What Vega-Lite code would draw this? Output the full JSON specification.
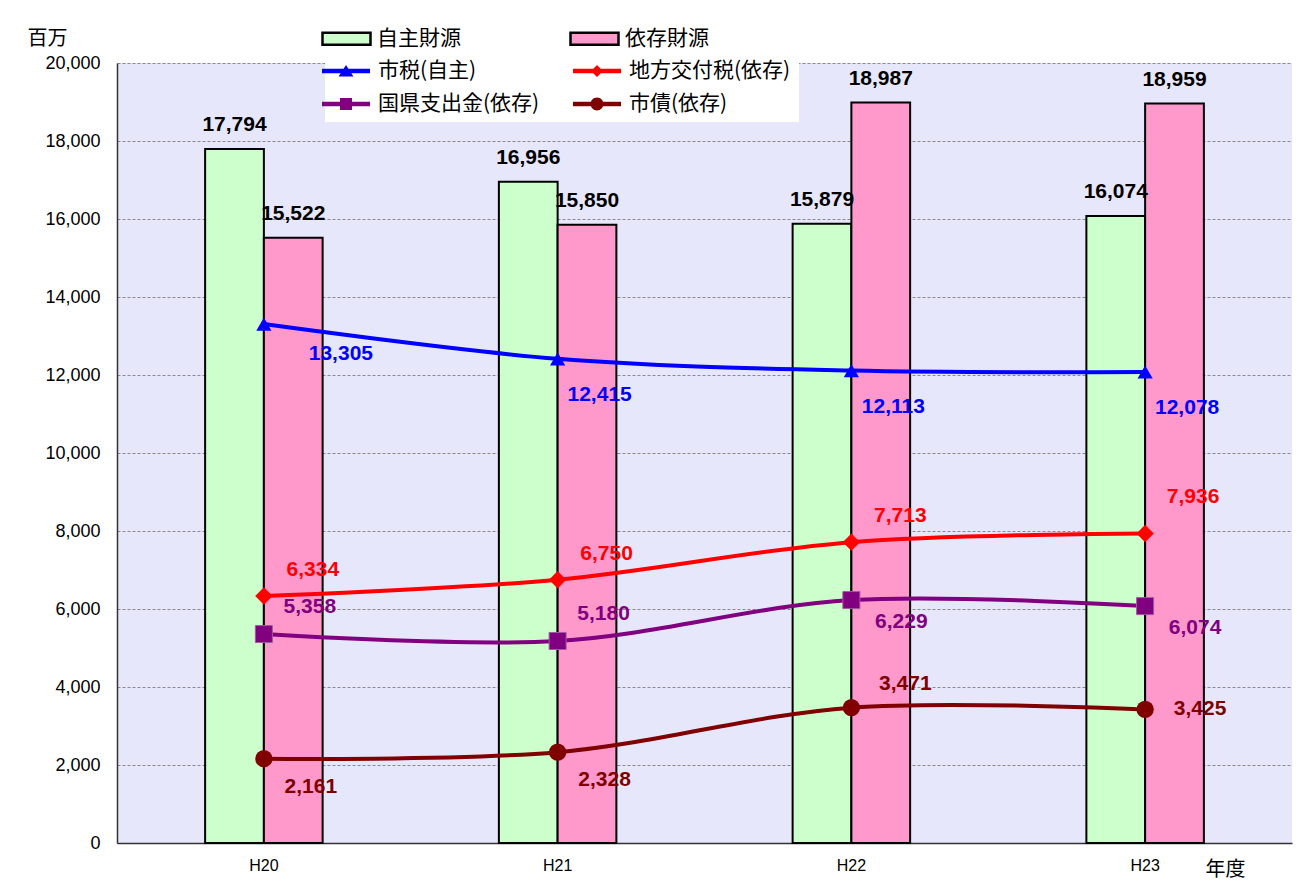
{
  "$schema": "https://vega.github.io/schema/vega-lite/v6.json",
  "autosize": {"type": "none"},
  "width": 1175,
  "height": 780,
  "padding": {"left": 117, "top": 63, "right": 8, "bottom": 44},
  "background": "white",
  "view": {"fill": "#e7e7fc", "stroke": null},
  "config": {"font": "Liberation Sans"},
  "datasets": {
    "bars": [
      {"year": "H20", "series": "自主財源", "value": 17794},
      {"year": "H20", "series": "依存財源", "value": 15522},
      {"year": "H21", "series": "自主財源", "value": 16956},
      {"year": "H21", "series": "依存財源", "value": 15850},
      {"year": "H22", "series": "自主財源", "value": 15879},
      {"year": "H22", "series": "依存財源", "value": 18987},
      {"year": "H23", "series": "自主財源", "value": 16074},
      {"year": "H23", "series": "依存財源", "value": 18959}
    ],
    "lines": [
      {"year": "H20", "series": "市税(自主)", "value": 13305},
      {"year": "H21", "series": "市税(自主)", "value": 12415},
      {"year": "H22", "series": "市税(自主)", "value": 12113},
      {"year": "H23", "series": "市税(自主)", "value": 12078},
      {"year": "H20", "series": "地方交付税(依存)", "value": 6334},
      {"year": "H21", "series": "地方交付税(依存)", "value": 6750},
      {"year": "H22", "series": "地方交付税(依存)", "value": 7713},
      {"year": "H23", "series": "地方交付税(依存)", "value": 7936},
      {"year": "H20", "series": "国県支出金(依存)", "value": 5358},
      {"year": "H21", "series": "国県支出金(依存)", "value": 5180},
      {"year": "H22", "series": "国県支出金(依存)", "value": 6229},
      {"year": "H23", "series": "国県支出金(依存)", "value": 6074},
      {"year": "H20", "series": "市債(依存)", "value": 2161},
      {"year": "H21", "series": "市債(依存)", "value": 2328},
      {"year": "H22", "series": "市債(依存)", "value": 3471},
      {"year": "H23", "series": "市債(依存)", "value": 3425}
    ]
  },
  "layer": [
    {
      "data": {"name": "bars"},
      "mark": {"type": "bar", "stroke": "black", "strokeWidth": 2},
      "encoding": {
        "x": {
          "field": "year", "type": "nominal", "sort": null,
          "scale": {"paddingInner": 0.6, "paddingOuter": 0.3},
          "axis": {
            "title": "年度", "titleX": 1108, "titleY": 26, "titleAlign": "center", "titleBaseline": "middle",
            "titleFont": "Noto Sans CJK JP", "titleFontSize": 20, "titleFontWeight": "normal",
            "labelAngle": 0, "labelFontSize": 16, "labelPadding": 14, "labelColor": "black",
            "ticks": false, "domainColor": "#333333", "domainWidth": 1.5
          }
        },
        "xOffset": {
          "field": "series", "type": "nominal",
          "scale": {"domain": ["自主財源", "依存財源"], "paddingInner": 0, "paddingOuter": 0}
        },
        "y": {
          "field": "value", "type": "quantitative",
          "scale": {"domain": [0, 20000], "nice": false},
          "axis": {
            "values": [0, 2000, 4000, 6000, 8000, 10000, 12000, 14000, 16000, 18000, 20000],
            "format": ",d", "title": "百万", "titleAngle": 0, "titleX": -90, "titleY": -25,
            "titleAlign": "left", "titleBaseline": "middle", "titleFont": "Noto Sans CJK JP",
            "titleFontSize": 20, "titleFontWeight": "normal",
            "labelFontSize": 18, "labelPadding": 17, "labelColor": "black", "ticks": false,
            "gridColor": "#8a8a8a", "gridDash": [3, 2], "gridWidth": 1,
            "domainColor": "#333333", "domainWidth": 1.5
          }
        },
        "fill": {
          "field": "series", "type": "nominal",
          "scale": {"domain": ["自主財源", "依存財源"], "range": ["#ccffcc", "#ff99cc"]},
          "legend": {
            "orient": "none", "legendX": 216, "legendY": -38, "direction": "horizontal", "columns": 2,
            "title": null, "symbolType": "M-2,-0.5H2V0.5H-2Z", "symbolSize": 576,
            "symbolStrokeColor": "black", "symbolStrokeWidth": 2.5,
            "labelFont": "Noto Sans CJK JP", "labelFontSize": 21, "labelOffset": 17, "labelColor": "black",
            "columnPadding": 104, "labelLimit": 300, "padding": 0
          }
        }
      }
    },
    {
      "data": {"name": "bars"},
      "mark": {"type": "text", "fontWeight": "bold", "fontSize": 21, "dy": -24, "baseline": "middle", "color": "black"},
      "encoding": {
        "x": {"field": "year", "type": "nominal", "sort": null},
        "xOffset": {"field": "series", "type": "nominal"},
        "y": {"field": "value", "type": "quantitative"},
        "text": {"field": "value", "type": "quantitative", "format": ","}
      }
    },
    {
      "data": {"name": "lines"},
      "mark": {"type": "point", "filled": true, "opacity": 0},
      "encoding": {
        "x": {"field": "year", "type": "nominal", "sort": null},
        "y": {"field": "value", "type": "quantitative"},
        "color": {
          "field": "series", "type": "nominal",
          "scale": {
            "domain": ["市税(自主)", "地方交付税(依存)", "国県支出金(依存)", "市債(依存)"],
            "range": ["#0000ff", "#ff0000", "#800080", "#800000"]
          },
          "legend": {
            "orient": "none", "legendX": 208, "legendY": -13, "direction": "horizontal", "columns": 2,
            "title": null, "symbolSize": 576, "symbolOpacity": 1,
            "labelFont": "Noto Sans CJK JP", "labelFontSize": 21, "labelOffset": 19, "labelColor": "black",
            "columnPadding": 30, "rowPadding": 10, "labelLimit": 300, "padding": 8, "fillColor": "white"
          }
        },
        "shape": {
          "field": "series", "type": "nominal",
          "scale": {
            "domain": ["市税(自主)", "地方交付税(依存)", "国県支出金(依存)", "市債(依存)"],
            "range": [
              "M-2,-0.19H2V0.19H-2Z M-0.62,0.45L0,-0.5L0.62,0.45Z",
              "M-2,-0.19H2V0.19H-2Z M0,-0.5L0.5,0L0,0.5L-0.5,0Z",
              "M-2,-0.19H2V0.19H-2Z M-0.5,-0.5H0.5V0.5H-0.5Z",
              "M-2,-0.19H2V0.19H-2Z M-0.54,0A0.54,0.54,0,1,1,0.54,0A0.54,0.54,0,1,1,-0.54,0Z"
            ]
          },
          "legend": {
            "orient": "none", "legendX": 208, "legendY": -13, "direction": "horizontal", "columns": 2,
            "title": null, "symbolSize": 576, "symbolOpacity": 1,
            "labelFont": "Noto Sans CJK JP", "labelFontSize": 21, "labelOffset": 19, "labelColor": "black",
            "columnPadding": 30, "rowPadding": 10, "labelLimit": 300, "padding": 8, "fillColor": "white"
          }
        }
      }
    },
    {
      "data": {"name": "lines"},
      "transform": [{"filter": "datum.series === '市税(自主)'"}],
      "mark": {"type": "line", "strokeWidth": 4, "interpolate": "catmull-rom", "color": "#0000ff"},
      "encoding": {
        "x": {"field": "year", "type": "nominal", "sort": null},
        "y": {"field": "value", "type": "quantitative"}
      }
    },
    {
      "data": {"name": "lines"},
      "transform": [{"filter": "datum.series === '地方交付税(依存)'"}],
      "mark": {"type": "line", "strokeWidth": 4, "interpolate": "catmull-rom", "color": "#ff0000"},
      "encoding": {
        "x": {"field": "year", "type": "nominal", "sort": null},
        "y": {"field": "value", "type": "quantitative"}
      }
    },
    {
      "data": {"name": "lines"},
      "transform": [{"filter": "datum.series === '国県支出金(依存)'"}],
      "mark": {"type": "line", "strokeWidth": 4, "interpolate": "catmull-rom", "color": "#800080"},
      "encoding": {
        "x": {"field": "year", "type": "nominal", "sort": null},
        "y": {"field": "value", "type": "quantitative"}
      }
    },
    {
      "data": {"name": "lines"},
      "transform": [{"filter": "datum.series === '市債(依存)'"}],
      "mark": {"type": "line", "strokeWidth": 4, "interpolate": "catmull-rom", "color": "#800000"},
      "encoding": {
        "x": {"field": "year", "type": "nominal", "sort": null},
        "y": {"field": "value", "type": "quantitative"}
      }
    },
    {
      "data": {"name": "lines"},
      "transform": [{"filter": "datum.series === '市税(自主)'"}],
      "mark": {"type": "point", "shape": "triangle-up", "filled": true, "size": 230, "opacity": 1, "color": "#0000ff"},
      "encoding": {
        "x": {"field": "year", "type": "nominal", "sort": null},
        "y": {"field": "value", "type": "quantitative"}
      }
    },
    {
      "data": {"name": "lines"},
      "transform": [{"filter": "datum.series === '地方交付税(依存)'"}],
      "mark": {"type": "point", "shape": "diamond", "filled": true, "size": 300, "opacity": 1, "color": "#ff0000"},
      "encoding": {
        "x": {"field": "year", "type": "nominal", "sort": null},
        "y": {"field": "value", "type": "quantitative"}
      }
    },
    {
      "data": {"name": "lines"},
      "transform": [{"filter": "datum.series === '国県支出金(依存)'"}],
      "mark": {"type": "point", "shape": "square", "filled": true, "size": 290, "opacity": 1, "color": "#800080", "stroke": "#a05aa0", "strokeWidth": 1},
      "encoding": {
        "x": {"field": "year", "type": "nominal", "sort": null},
        "y": {"field": "value", "type": "quantitative"}
      }
    },
    {
      "data": {"name": "lines"},
      "transform": [{"filter": "datum.series === '市債(依存)'"}],
      "mark": {"type": "point", "shape": "circle", "filled": true, "size": 300, "opacity": 1, "color": "#800000"},
      "encoding": {
        "x": {"field": "year", "type": "nominal", "sort": null},
        "y": {"field": "value", "type": "quantitative"}
      }
    },
    {
      "data": {"name": "lines"},
      "transform": [{"filter": "datum.series === '市税(自主)' && datum.year === 'H20'"}],
      "mark": {"type": "text", "fontWeight": "bold", "fontSize": 21, "dx": 77, "dy": 30, "baseline": "middle", "color": "#0000ff"},
      "encoding": {
        "x": {"field": "year", "type": "nominal", "sort": null},
        "y": {"field": "value", "type": "quantitative"},
        "text": {"field": "value", "type": "quantitative", "format": ","}
      }
    },
    {
      "data": {"name": "lines"},
      "transform": [{"filter": "datum.series === '市税(自主)' && datum.year !== 'H20'"}],
      "mark": {"type": "text", "fontWeight": "bold", "fontSize": 21, "dx": 42, "dy": 36, "baseline": "middle", "color": "#0000ff"},
      "encoding": {
        "x": {"field": "year", "type": "nominal", "sort": null},
        "y": {"field": "value", "type": "quantitative"},
        "text": {"field": "value", "type": "quantitative", "format": ","}
      }
    },
    {
      "data": {"name": "lines"},
      "transform": [{"filter": "datum.series === '地方交付税(依存)' && datum.year !== 'H23'"}],
      "mark": {"type": "text", "fontWeight": "bold", "fontSize": 21, "dx": 49, "dy": -26, "baseline": "middle", "color": "#ff0000"},
      "encoding": {
        "x": {"field": "year", "type": "nominal", "sort": null},
        "y": {"field": "value", "type": "quantitative"},
        "text": {"field": "value", "type": "quantitative", "format": ","}
      }
    },
    {
      "data": {"name": "lines"},
      "transform": [{"filter": "datum.series === '地方交付税(依存)' && datum.year === 'H23'"}],
      "mark": {"type": "text", "fontWeight": "bold", "fontSize": 21, "dx": 48, "dy": -36, "baseline": "middle", "color": "#ff0000"},
      "encoding": {
        "x": {"field": "year", "type": "nominal", "sort": null},
        "y": {"field": "value", "type": "quantitative"},
        "text": {"field": "value", "type": "quantitative", "format": ","}
      }
    },
    {
      "data": {"name": "lines"},
      "transform": [{"filter": "datum.series === '国県支出金(依存)' && (datum.year === 'H20' || datum.year === 'H21')"}],
      "mark": {"type": "text", "fontWeight": "bold", "fontSize": 21, "dx": 46, "dy": -27, "baseline": "middle", "color": "#800080"},
      "encoding": {
        "x": {"field": "year", "type": "nominal", "sort": null},
        "y": {"field": "value", "type": "quantitative"},
        "text": {"field": "value", "type": "quantitative", "format": ","}
      }
    },
    {
      "data": {"name": "lines"},
      "transform": [{"filter": "datum.series === '国県支出金(依存)' && (datum.year === 'H22' || datum.year === 'H23')"}],
      "mark": {"type": "text", "fontWeight": "bold", "fontSize": 21, "dx": 50, "dy": 22, "baseline": "middle", "color": "#800080"},
      "encoding": {
        "x": {"field": "year", "type": "nominal", "sort": null},
        "y": {"field": "value", "type": "quantitative"},
        "text": {"field": "value", "type": "quantitative", "format": ","}
      }
    },
    {
      "data": {"name": "lines"},
      "transform": [{"filter": "datum.series === '市債(依存)' && (datum.year === 'H20' || datum.year === 'H21')"}],
      "mark": {"type": "text", "fontWeight": "bold", "fontSize": 21, "dx": 47, "dy": 28, "baseline": "middle", "color": "#800000"},
      "encoding": {
        "x": {"field": "year", "type": "nominal", "sort": null},
        "y": {"field": "value", "type": "quantitative"},
        "text": {"field": "value", "type": "quantitative", "format": ","}
      }
    },
    {
      "data": {"name": "lines"},
      "transform": [{"filter": "datum.series === '市債(依存)' && datum.year === 'H22'"}],
      "mark": {"type": "text", "fontWeight": "bold", "fontSize": 21, "dx": 54, "dy": -24, "baseline": "middle", "color": "#800000"},
      "encoding": {
        "x": {"field": "year", "type": "nominal", "sort": null},
        "y": {"field": "value", "type": "quantitative"},
        "text": {"field": "value", "type": "quantitative", "format": ","}
      }
    },
    {
      "data": {"name": "lines"},
      "transform": [{"filter": "datum.series === '市債(依存)' && datum.year === 'H23'"}],
      "mark": {"type": "text", "fontWeight": "bold", "fontSize": 21, "dx": 55, "dy": 0, "baseline": "middle", "color": "#800000"},
      "encoding": {
        "x": {"field": "year", "type": "nominal", "sort": null},
        "y": {"field": "value", "type": "quantitative"},
        "text": {"field": "value", "type": "quantitative", "format": ","}
      }
    }
  ]
}
